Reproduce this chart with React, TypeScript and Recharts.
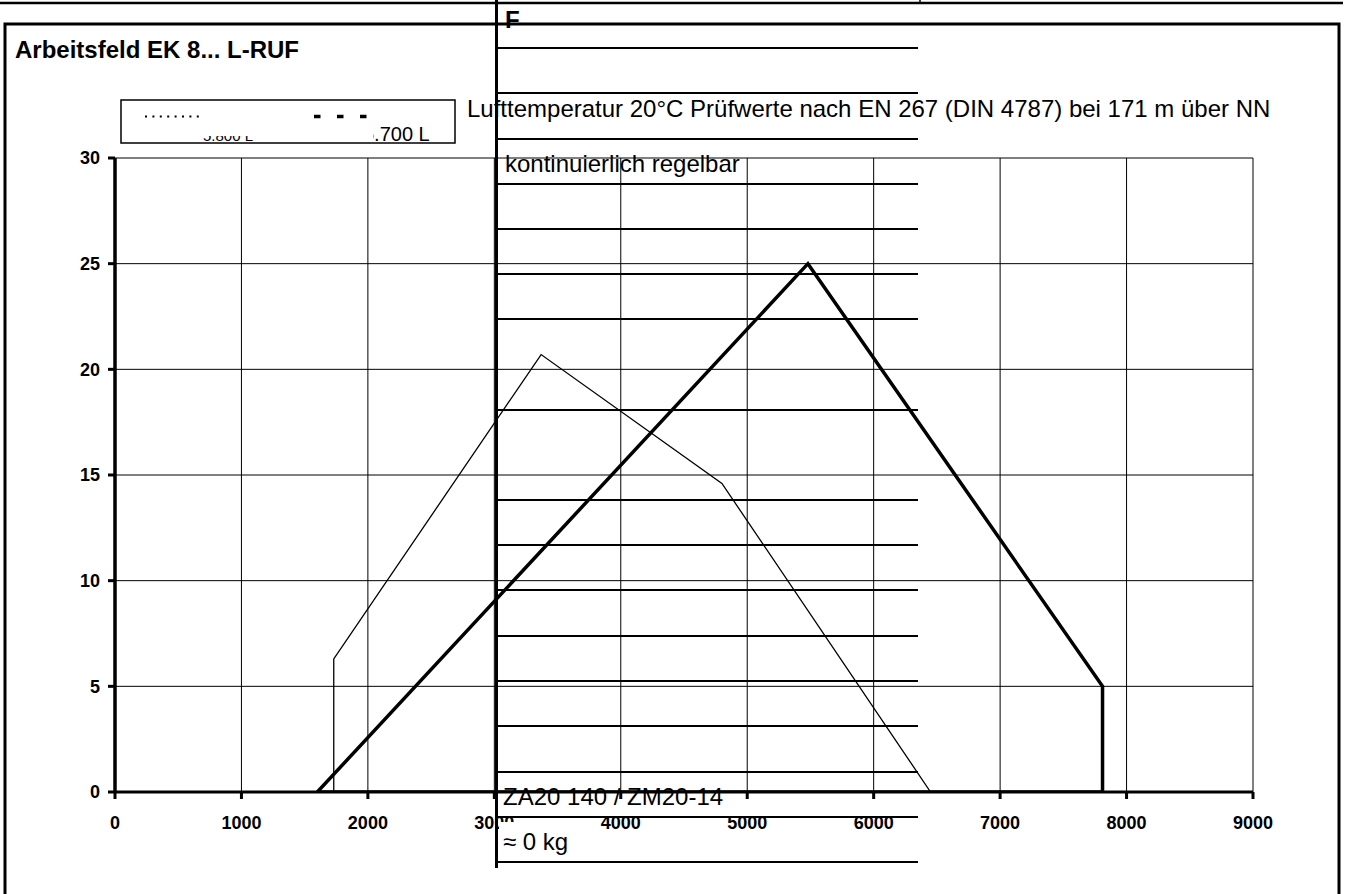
import React from 'react';
import { LineChart, Line, XAxis, YAxis, CartesianGrid } from 'recharts';

const FONT = '"Liberation Sans", Arial, Helvetica, sans-serif';

// Data
const xTicks = [0, 1000, 2000, 3000, 4000, 5000, 6000, 7000, 8000, 9000];
const yTicks = [0, 5, 10, 15, 20, 25, 30];

const thinX = [1730, 1730, 3370, 4800, 6450];
const thinY = [0, 6.3, 20.7, 14.6, 0];

const thickX = [1600, 5480, 7810, 7810, 1600];
const thickY = [0, 25, 5, 0, 0];

const legendNames = ['5.800 L', '5.700 L'];

const titleText = 'Arbeitsfeld EK 8... L-RUF';
const noteText = 'Lufttemperatur 20°C Prüfwerte nach EN 267 (DIN 4787) bei 171 m über NN';
const tableTexts = ['F', 'kontinuierlich regelbar', 'ZA20 140 / ZM20-14', '≈ 0 kg'];
const tableRowLines = [48, 93, 139, 184, 229, 274, 319, 410, 500, 545, 590, 636, 681, 726, 772, 817, 862];

const thinData = thinX.map((x, i) => ({ x, y: thinY[i] }));
const thickData = thickX.map((x, i) => ({ x, y: thickY[i] }));

const tickStyle = { fontFamily: FONT, fontSize: 18, fontWeight: 700, fill: '#000' };

function Overlay() {
  return (
    <svg
      width={1345}
      height={894}
      style={{ position: 'absolute', left: 0, top: 0, pointerEvents: 'none' }}
    >
      <defs>
        <clipPath id="clipL1">
          <rect x={150} y={136} width={120} height={10} />
        </clipPath>
        <clipPath id="clipL2">
          <rect x={373} y={120} width={80} height={30} />
        </clipPath>
      </defs>
      {/* top rule */}
      <line x1={0} y1={3} x2={1343} y2={3} stroke="#000" strokeWidth={2.5} />
      <line x1={920} y1={0} x2={920} y2={4} stroke="#000" strokeWidth={1.5} />
      {/* chart frame */}
      <rect x={5} y={24} width={1334} height={890} fill="none" stroke="#000" strokeWidth={3} />
      {/* title */}
      <text x={15} y={58} fontFamily={FONT} fontSize={24} fontWeight={700} fill="#000">
        {titleText}
      </text>
      {/* legend box */}
      <rect x={121} y={100} width={334} height={43} fill="#fff" stroke="#000" strokeWidth={1.5} />
      <line x1={145} y1={116.5} x2={199} y2={116.5} stroke="#000" strokeWidth={2} strokeDasharray="2 5.4" />
      <line x1={314} y1={116.5} x2={368} y2={116.5} stroke="#000" strokeWidth={3.5} strokeDasharray="6.5 16.5" />
      <g clipPath="url(#clipL1)">
        <text x={203} y={141} fontFamily={FONT} fontSize={15} fill="#000">{legendNames[0]}</text>
      </g>
      <g clipPath="url(#clipL2)">
        <text x={363} y={141} fontFamily={FONT} fontSize={20} fill="#000">{legendNames[1]}</text>
      </g>
      {/* note */}
      <text x={467} y={117} fontFamily={FONT} fontSize={24} fill="#000">{noteText}</text>
      {/* table overlay */}
      <line x1={496.5} y1={0} x2={496.5} y2={868} stroke="#000" strokeWidth={3} />
      {tableRowLines.map((y) => (
        <line key={y} x1={497} y1={y} x2={918} y2={y} stroke="#000" strokeWidth={2} />
      ))}
      <text x={505} y={28} fontFamily={FONT} fontSize={24} fontWeight={700} fill="#000">{tableTexts[0]}</text>
      <text x={505} y={172} fontFamily={FONT} fontSize={24} fill="#000">{tableTexts[1]}</text>
      <text x={503} y={805} fontFamily={FONT} fontSize={24} fill="#000">{tableTexts[2]}</text>
      <rect x={499} y={822} width={22} height={38} fill="#fff" />
      <text x={503} y={850} fontFamily={FONT} fontSize={24} fill="#000">{tableTexts[3]}</text>
    </svg>
  );
}

export default function App() {
  return (
    <div style={{ position: 'absolute', left: 0, top: 0, width: 1345, height: 894, background: '#fff' }}>
      <LineChart
        width={1345}
        height={894}
        margin={{ top: 158, right: 92, bottom: 72, left: 55 }}
      >
        <CartesianGrid stroke="#000" strokeWidth={1} />
        <XAxis
          dataKey="x"
          type="number"
          domain={[0, 9000]}
          ticks={xTicks}
          allowDataOverflow
          height={30}
          axisLine={{ stroke: '#000', strokeWidth: 3 }}
          tickLine={{ stroke: '#000', strokeWidth: 3 }}
          tickSize={7}
          tickMargin={17}
          tick={tickStyle}
          interval={0}
        />
        <YAxis
          dataKey="y"
          type="number"
          domain={[0, 30]}
          ticks={yTicks}
          allowDataOverflow
          width={60}
          axisLine={{ stroke: '#000', strokeWidth: 3.5 }}
          tickLine={{ stroke: '#000', strokeWidth: 3 }}
          tickSize={7}
          tickMargin={8}
          tick={tickStyle}
          interval={0}
        />
        <Line
          data={thinData}
          dataKey="y"
          type="linear"
          stroke="#000"
          strokeWidth={1.3}
          dot={false}
          isAnimationActive={false}
        />
        <Line
          data={thickData}
          dataKey="y"
          type="linear"
          stroke="#000"
          strokeWidth={3.5}
          dot={false}
          isAnimationActive={false}
        />
      </LineChart>
      <Overlay />
    </div>
  );
}
